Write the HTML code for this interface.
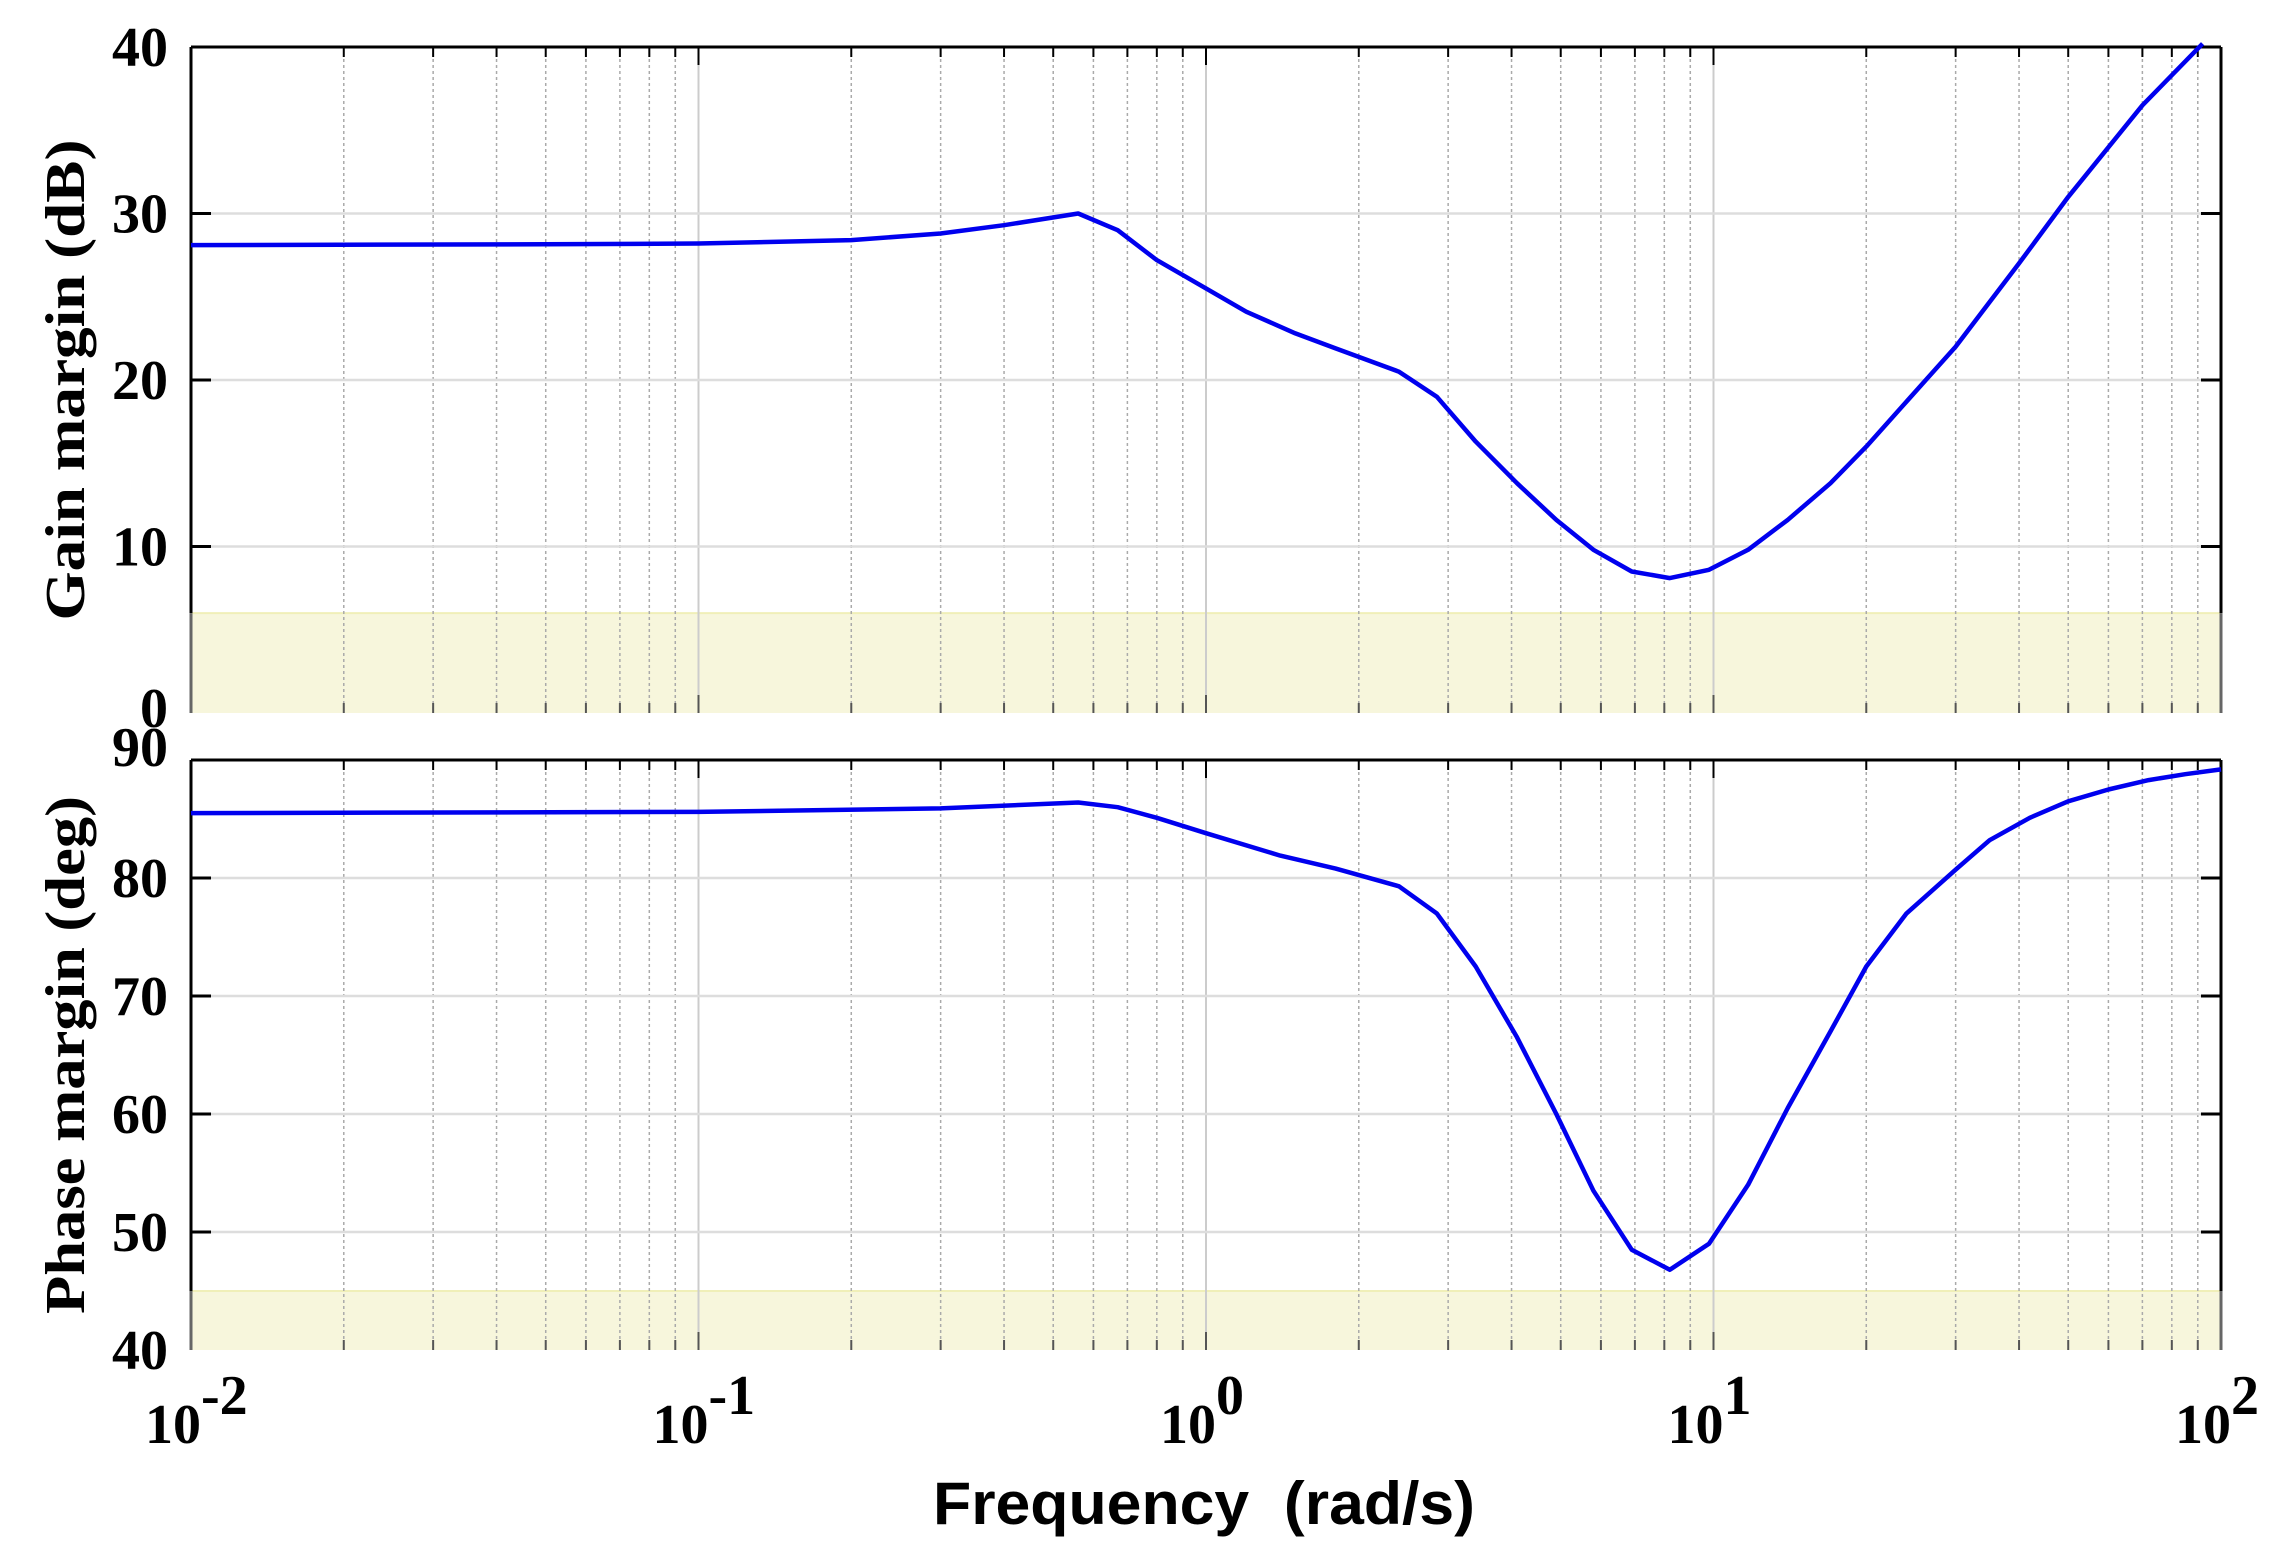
<!DOCTYPE html>
<html><head><meta charset="utf-8"><style>
html,body{margin:0;padding:0;background:#fff;}
svg{display:block;}
.tk{font-family:"Liberation Serif",serif;font-weight:bold;font-size:56px;fill:#000;}
</style></head><body>
<svg id="s" width="2286" height="1564" viewBox="0 0 2286 1564" xmlns="http://www.w3.org/2000/svg">
<g id="g"></g>
<text class="tk" transform="translate(84,380) rotate(-90)" text-anchor="middle" font-size="66" textLength="481" lengthAdjust="spacingAndGlyphs">Gain margin (dB)</text>
<text class="tk" transform="translate(84,1055) rotate(-90)" text-anchor="middle" font-size="66" textLength="518" lengthAdjust="spacingAndGlyphs">Phase margin (deg)</text>
<text x="1204" y="1524" text-anchor="middle" font-family="Liberation Sans, sans-serif" font-weight="bold" font-size="60" textLength="542" lengthAdjust="spacingAndGlyphs" xml:space="preserve">Frequency  (rad/s)</text>
</svg>
<script>
var NS="http://www.w3.org/2000/svg",g=document.getElementById('g');
function el(t,a,txt){var e=document.createElementNS(NS,t);for(var k in a)e.setAttribute(k,a[k]);if(txt!==undefined)e.textContent=txt;g.appendChild(e);return e;}
var L=191,R=2221;function X(f){return L+(Math.log10(f)+2)*507.5;}
var panels=[{top:47,bot:713,y0:0,y1:40,step:10,band:6,lab:['0','10','20','30','40']},
{top:760,bot:1350,y0:40,y1:90,step:10,band:45,lab:['40','50','60','70','80','90']}];
panels.forEach(function(p){
 function Y(v){return p.bot-(v-p.y0)/(p.y1-p.y0)*(p.bot-p.top);}
 p.Y=Y;
 el('rect',{x:L,y:Y(p.band),width:R-L,height:p.bot-Y(p.band),fill:'#f7f6dc'});
 el('line',{x1:L,x2:R,y1:Y(p.band),y2:Y(p.band),stroke:'#f0efb8','stroke-width':2});
 for(var d=-2;d<2;d++)for(var m=2;m<10;m++){var x=X(m*Math.pow(10,d));
  el('line',{x1:x,x2:x,y1:p.top,y2:p.bot,stroke:'#aaa','stroke-width':1.5,'stroke-dasharray':'3,3'});
  el('line',{x1:x,x2:x,y1:p.bot,y2:p.bot-10,stroke:'#555','stroke-width':2});
  el('line',{x1:x,x2:x,y1:p.top,y2:p.top+10,stroke:'#000','stroke-width':2});}
 for(var d=-1;d<2;d++){var x=X(Math.pow(10,d));
  el('line',{x1:x,x2:x,y1:p.top,y2:p.bot,stroke:'#ccc','stroke-width':2});
  el('line',{x1:x,x2:x,y1:p.bot,y2:p.bot-18,stroke:'#555','stroke-width':2});
  el('line',{x1:x,x2:x,y1:p.top,y2:p.top+18,stroke:'#000','stroke-width':2});}
 for(var v=p.y0+p.step;v<p.y1;v+=p.step){var y=Y(v);
  if(v>p.band)el('line',{x1:L,x2:R,y1:y,y2:y,stroke:'#ddd','stroke-width':2.5});
  el('line',{x1:L,x2:L+20,y1:y,y2:y,stroke:'#000','stroke-width':3});
  el('line',{x1:R,x2:R-20,y1:y,y2:y,stroke:'#000','stroke-width':3});}
 el('line',{x1:L,x2:R,y1:p.top,y2:p.top,stroke:'#000','stroke-width':3});
 el('line',{x1:L,x2:L,y1:p.top,y2:Y(p.band),stroke:'#000','stroke-width':3});
 el('line',{x1:R,x2:R,y1:p.top,y2:Y(p.band),stroke:'#000','stroke-width':3});
 el('line',{x1:L,x2:L,y1:Y(p.band),y2:p.bot,stroke:'#666','stroke-width':3});
 el('line',{x1:R,x2:R,y1:Y(p.band),y2:p.bot,stroke:'#666','stroke-width':3});
 p.lab.forEach(function(t,i){var v=p.y0+i*p.step;var y=Y(v)+19;
  if(p.y0==0&&v==0)y=Y(v)+14; if(p.y0==40&&v==90)y=Y(v)+6;
  el('text',{x:168,y:y,'text-anchor':'end','class':'tk'},t);});
});
var gain=[[0.01,28.1],[0.05,28.15],[0.1,28.2],[0.2,28.4],[0.3,28.8],[0.4,29.3],[0.56,30.0],[0.67,29.0],[0.8,27.2],[1.0,25.5],[1.2,24.1],[1.5,22.8],[1.8,21.9],[2.4,20.5],[2.85,19.0],[3.4,16.3],[4.1,13.8],[4.9,11.6],[5.8,9.8],[6.9,8.5],[8.2,8.1],[9.8,8.6],[11.7,9.8],[14,11.6],[17,13.8],[20,16.0],[24,18.7],[30,22.0],[40,27.0],[50,31.0],[70,36.5],[92,40.2]];
var ph=[[0.01,85.5],[0.1,85.6],[0.3,85.9],[0.56,86.4],[0.67,86.0],[0.8,85.1],[1.0,83.8],[1.4,81.9],[1.8,80.8],[2.4,79.3],[2.85,77.0],[3.4,72.5],[4.1,66.5],[4.9,60],[5.8,53.5],[6.9,48.5],[8.2,46.8],[9.8,49],[11.7,54],[14,60.5],[17,67],[20,72.5],[24,77],[30,80.7],[35,83.2],[42,85.1],[50,86.5],[60,87.5],[72,88.3],[85,88.8],[100,89.2]];
[[gain,panels[0]],[ph,panels[1]]].forEach(function(a){
 var d=a[0].map(function(q,i){return (i?'L':'M')+X(q[0]).toFixed(1)+','+a[1].Y(q[1]).toFixed(1);}).join(' ');
 el('path',{d:d,fill:'none',stroke:'#0000ee','stroke-width':4.5,'stroke-linejoin':'round'});
});
['-2','-1','0','1','2'].forEach(function(e,i){var x=L+i*507.5;
 el('text',{x:x-46,y:1443,'class':'tk'},'10');
 el('text',{x:x+10,y:1414,'class':'tk','font-size':'40'},e);});
</script>
</body></html>
